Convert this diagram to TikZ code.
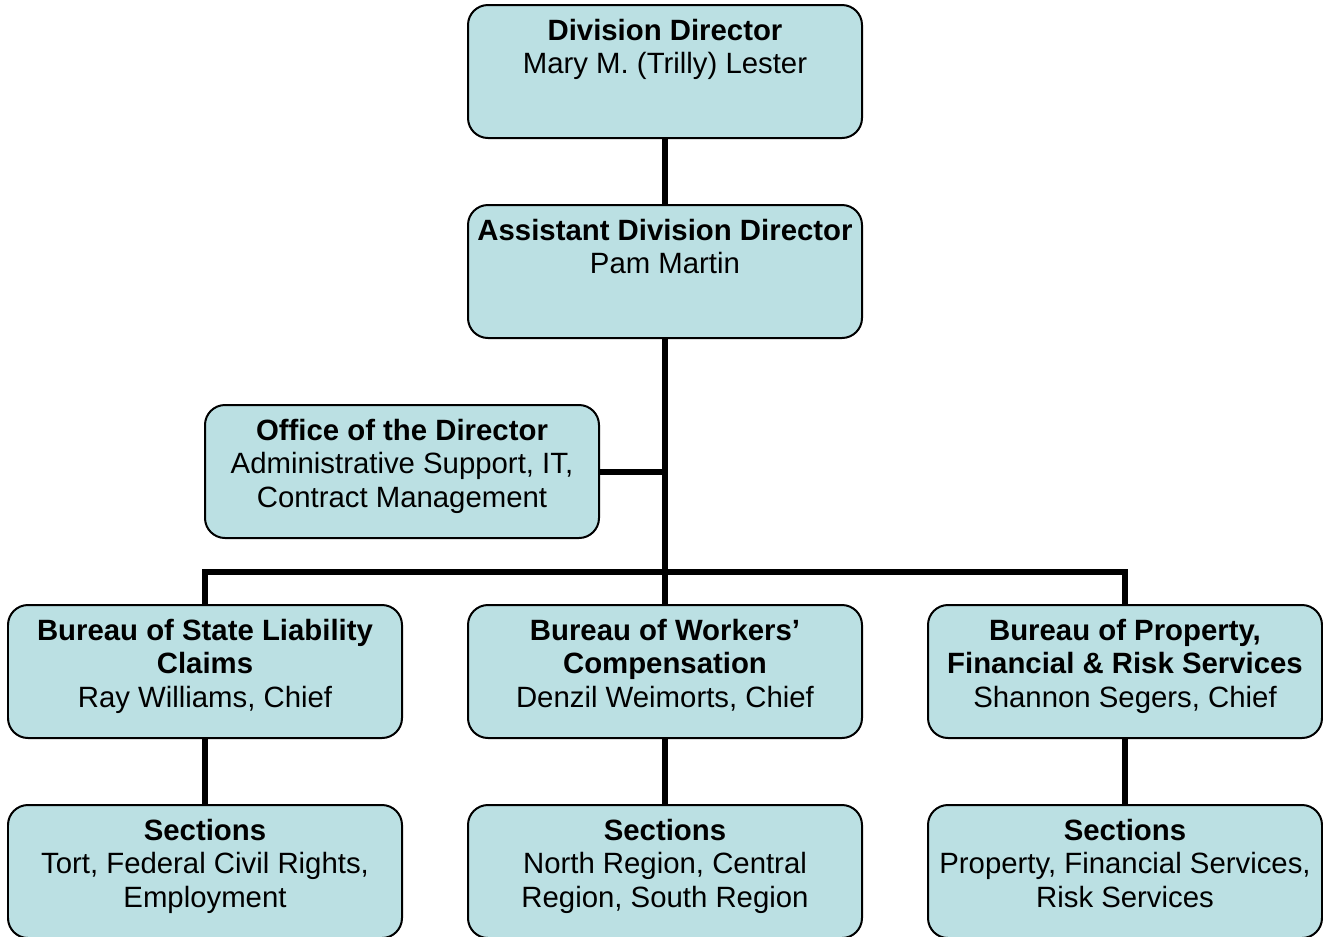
\documentclass[tikz,border=0pt]{standalone}
\usepackage{fontspec}
\setmainfont{Liberation Sans}
\usepackage{xcolor}
\usepackage{tikz}
\usetikzlibrary{positioning, calc}
\definecolor{cUnit}{RGB}{187,224,227}
\newcommand{\unittxt}[1]{\begin{minipage}[c][2.26cm][t]{7.7cm}\centering\rule{0pt}{0.5cm}#1\end{minipage}}
\tikzset{
	unit/.style ={rectangle, rounded corners=0.4cm, draw=black, line width=0.04cm, fill=cUnit, minimum width=7.88cm, minimum height=2.66cm, inner xsep=0.09cm, inner ysep=0.2cm},
	link/.style ={line width=0.12cm, black},
}

\begin{document}
\begin{tikzpicture}[font=\fontsize{16.7pt}{19.1pt}\selectfont]
	\useasboundingbox (0,0) rectangle (26.46,-18.72);
	\node[unit] (dir) at (13.3,-1.43) {\unittxt{\textbf{Division Director}\\Mary M. (Trilly) Lester}};
	\node[unit] (asst) at (13.3,-5.43) {\unittxt{\textbf{Assistant Division Director}\\Pam Martin}};
	\node[unit] (office) at (8.04,-9.43) {\unittxt{\textbf{Office of the Director}\\Administrative Support, IT,\\Contract Management}};
	\coordinate (bar) at (13.3,-11.44);
	\foreach \x/\id/\head/\chief/\secs in {
		4.1/sl/{Bureau of State Liability\\Claims}/{Ray Williams, Chief}/{Tort, Federal Civil Rights,\\Employment},
		13.3/wc/{Bureau of Workers’\\Compensation}/{Denzil Weimorts, Chief}/{North Region, Central\\Region, South Region},
		22.5/pf/{Bureau of Property,\\Financial \& Risk Services}/{Shannon Segers, Chief}/{Property, Financial Services,\\Risk Services}} {
		\node[unit] (b\id) at (\x,-13.43) {\unittxt{\textbf{\head}\\\chief}};
		\node[unit] (s\id) at (\x,-17.43) {\unittxt{\textbf{Sections}\\\secs}};
		\draw[link] (b\id) -- (s\id);
	}
	\draw[link] (dir) -- (asst);
	\draw[link] (asst) -- (bwc);
	\draw[link] (office.east) -- (office.east -| asst.south);
	\draw[link] (bsl.north) |- (bar) -| (bpf.north);
\end{tikzpicture}
\end{document}
